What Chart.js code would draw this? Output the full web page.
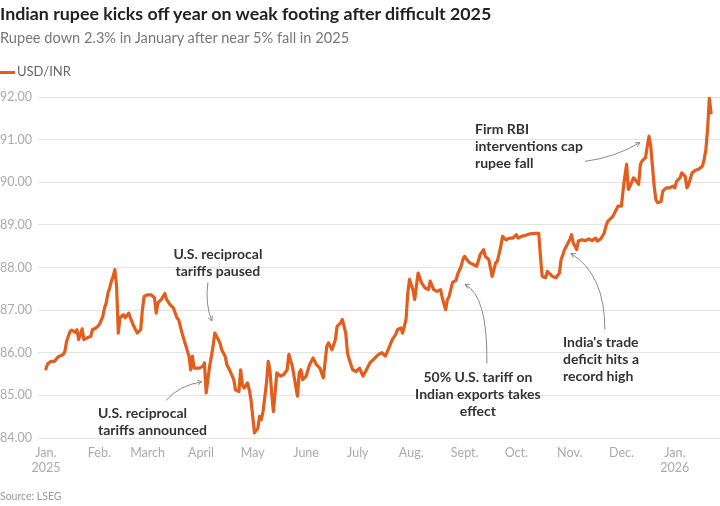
<!DOCTYPE html>
<html>
<head>
<meta charset="utf-8">
<script src="https://cdn.jsdelivr.net/npm/chart.js@4.4.1/dist/chart.umd.min.js"></script>
<style>
  html, body { margin: 0; padding: 0; background: #fff; }
  #wrap { position: relative; width: 720px; height: 506px; overflow: hidden; font-family: Lato, "Open Sans", sans-serif; }
  #title { position: absolute; left: 0; top: 2px; font-size: 17.8px; font-weight: 700; color: #222; white-space: nowrap; }
  #sub { position: absolute; left: 0; top: 29px; font-size: 14.6px; color: #777; white-space: nowrap; }
  #legend { position: absolute; left: 0; top: 63px; font-size: 13px; color: #666; white-space: nowrap; }
  #legend .sw { display: inline-block; width: 15px; height: 3px; background: #e35d1c; vertical-align: middle; margin-right: 2px; }
  #source { position: absolute; left: 0; top: 490px; font-size: 10.5px; color: #999; }
  canvas { position: absolute; left: 0; top: 0; }
</style>
</head>
<body>
<div id="wrap">
  <canvas id="c" width="720" height="506"></canvas>
  <div id="title">Indian rupee kicks off year on weak footing after difficult 2025</div>
  <div id="sub">Rupee down 2.3% in January after near 5% fall in 2025</div>
  <div id="legend"><span class="sw"></span>USD/INR</div>
  <div id="source">Source: LSEG</div>
</div>
<script>
// days since 1 Jan 2025
var days = [0,1,3,5,7,8,10,11,12,14,15,17,18,19,21,22,24,26,27,29,31,33,34,35,36,37,38,39,40,41,42,43,45,46,48,49,51,53,55,56,57,59,61,63,64,65,67,68,69,70,72,74,76,77,79,81,83,84,85,86,87,89,91,92,93,94,95,97,98,99,101,102,104,105,107,109,110,112,113,114,115,117,118,119,120,121,123,124,125,126,128,129,130,131,132,133,134,136,138,140,141,143,144,146,147,148,149,151,153,155,157,159,161,163,164,166,168,169,171,172,174,175,176,178,180,182,184,186,188,190,191,193,195,197,199,201,203,204,206,207,209,210,211,213,214,216,218,220,222,223,225,227,229,230,232,233,234,236,238,239,241,242,243,245,246,248,250,252,254,255,257,258,259,261,262,264,265,267,269,271,273,274,276,278,281,284,286,287,288,290,291,292,294,296,298,299,300,301,302,304,305,306,308,309,311,313,315,317,319,320,322,324,325,326,328,329,331,332,334,335,336,337,338,339,341,342,344,345,346,348,349,350,351,352,353,354,355,357,358,360,362,364,365,366,368,369,371,372,373,375,377,379,381,382,383,384,385,386];

var usdInr = [85.62,85.74,85.80,85.80,85.90,85.92,85.96,86.03,86.27,86.50,86.53,86.48,86.54,86.31,86.56,86.31,86.35,86.38,86.54,86.58,86.66,86.85,87.05,87.17,87.40,87.52,87.68,87.79,87.95,87.56,86.46,86.82,86.89,86.82,86.93,86.82,86.62,86.46,86.54,87.01,87.32,87.36,87.36,87.29,86.93,87.17,87.25,87.32,87.39,87.25,87.13,87.05,86.82,86.78,86.46,86.19,85.92,85.60,85.92,85.64,85.64,85.64,85.68,85.76,85.06,85.37,85.68,86.15,86.46,86.39,86.23,86.07,85.92,85.72,85.56,85.37,85.13,85.09,85.60,85.25,85.17,85.29,85.13,84.90,84.51,84.12,84.23,84.51,84.43,84.62,85.29,85.80,85.60,85.06,84.62,85.06,85.53,85.45,85.49,85.60,85.96,85.68,85.45,84.98,85.53,85.60,85.37,85.45,85.72,85.88,85.72,85.64,85.41,86.15,86.23,86.07,86.31,86.62,86.70,86.78,86.46,86.00,85.84,85.60,85.56,85.64,85.45,85.60,85.76,85.84,85.88,85.96,86.00,85.92,86.11,86.31,86.43,86.54,86.58,86.46,86.78,87.40,87.72,87.48,87.25,87.87,87.64,87.52,87.48,87.68,87.48,87.44,87.48,87.29,87.01,87.25,87.32,87.65,87.70,87.85,88.03,88.19,88.26,88.15,88.11,88.07,88.03,88.30,88.42,88.26,88.19,87.99,87.79,88.11,88.15,88.50,88.73,88.65,88.69,88.69,88.77,88.69,88.73,88.75,88.79,88.80,88.80,88.26,87.79,87.76,87.91,87.87,87.79,87.76,87.87,88.19,88.30,88.42,88.50,88.65,88.77,88.58,88.42,88.62,88.65,88.63,88.67,88.63,88.69,88.62,88.67,88.81,88.97,89.08,89.16,89.20,89.36,89.44,89.44,89.83,90.14,90.42,89.83,89.91,90.10,90.06,89.95,90.42,90.50,90.58,90.85,91.08,90.85,90.38,89.91,89.59,89.52,89.55,89.79,89.87,89.87,89.91,89.87,90.02,90.10,90.22,90.14,89.87,89.95,90.22,90.28,90.31,90.38,90.53,90.77,91.24,91.97,91.63];

// month starts (days since 1 Jan 2025) and their labels
var tickDays = [0,31,59,90,120,151,181,212,243,273,304,334,365];
var tickLabels = [['Jan.','2025'],'Feb.','March','April','May','June','July','Aug.','Sept.','Oct.','Nov.','Dec.',['Jan.','2026']];

// annotations, anchored in data space (day, rate)
var notes = [
  { lines: ['U.S. reciprocal','tariffs paused'], x: 99.8, y: 88.30, align: 'center',
    arrow: [[94.0,87.65],[92.3,87.13],[96.3,86.75]] },
  { lines: ['U.S. reciprocal','tariffs announced'], x: 30.2, y: 84.57, align: 'left',
    arrow: [[69.6,84.88],[77.2,85.23],[90.5,85.32]] },
  { lines: ['50% U.S. tariff on','Indian exports takes','effect'], x: 250.7, y: 85.42, align: 'center',
    arrow: [[255.9,85.75],[256.4,87.35],[243.2,87.60]] },
  { lines: ["India's trade",'deficit hits a','record high'], x: 300.1, y: 86.24, align: 'left',
    arrow: [[324.4,86.54],[324.4,87.84],[304.7,88.33]] },
  { lines: ['Firm RBI','interventions cap','rupee fall'], x: 249.0, y: 91.23, align: 'left',
    arrow: [[312.8,90.49],[330.2,90.58],[344.7,90.93]] }
];

var lineColor = '#e35d1c';
var fontFam = 'Lato, "Open Sans", sans-serif';

var points = [];
for (var i = 0; i < days.length; i++) {
  points.push({ x: days[i], y: usdInr[i] });
}

var notesPlugin = {
  id: 'notes',
  afterDatasetsDraw: function(chart) {
    var c = chart.ctx;
    var xs = chart.scales.x, ys = chart.scales.y;
    c.save();
    notes.forEach(function(n) {
      // arrow
      var p = n.arrow.map(function(a){ return [xs.getPixelForValue(a[0]), ys.getPixelForValue(a[1])]; });
      c.strokeStyle = '#8a8a8a';
      c.lineWidth = 1;
      c.beginPath();
      c.moveTo(p[0][0], p[0][1]);
      c.quadraticCurveTo(p[1][0], p[1][1], p[2][0], p[2][1]);
      c.stroke();
      var ang = Math.atan2(p[2][1] - p[1][1], p[2][0] - p[1][0]);
      var hl = 5;
      c.beginPath();
      c.moveTo(p[2][0] - hl * Math.cos(ang - 0.5), p[2][1] - hl * Math.sin(ang - 0.5));
      c.lineTo(p[2][0], p[2][1]);
      c.lineTo(p[2][0] - hl * Math.cos(ang + 0.5), p[2][1] - hl * Math.sin(ang + 0.5));
      c.stroke();

      // text
      c.fillStyle = '#333';
      c.font = 'bold 14px ' + fontFam;
      c.textAlign = n.align;
      c.textBaseline = 'middle';
      var tx = xs.getPixelForValue(n.x), ty = ys.getPixelForValue(n.y);
      n.lines.forEach(function(t, k) {
        c.fillText(t, tx, ty + k * 17);
      });
    });
    c.restore();
  }
};

new Chart(document.getElementById('c').getContext('2d'), {
  type: 'line',
  data: {
    datasets: [{
      label: 'USD/INR',
      data: points,
      borderColor: lineColor,
      borderWidth: 3.2,
      pointRadius: 0,
      tension: 0,
      borderJoinStyle: 'round',
      borderCapStyle: 'round'
    }]
  },
  options: {
    responsive: false,
    animation: false,
    layout: { padding: { top: 97, bottom: 28, left: 0, right: 0 } },
    plugins: { legend: { display: false }, tooltip: { enabled: false } },
    scales: {
      x: {
        type: 'linear',
        min: -4.6,
        max: 391.2,
        afterFit: function(s) { s.height = 40; },
        afterBuildTicks: function(s) {
          s.ticks = tickDays.map(function(v) { return { value: v }; });
        },
        grid: { display: false, drawTicks: false },
        border: { display: false },
        ticks: {
          autoSkip: false,
          maxRotation: 0,
          padding: 8,
          color: '#aaa',
          font: { family: fontFam, size: 12.5, lineHeight: 1.15 },
          callback: function(v) {
            var k = tickDays.indexOf(v);
            return k < 0 ? '' : tickLabels[k];
          }
        }
      },
      y: {
        min: 84,
        max: 92,
        afterFit: function(s) { s.width = 38; },
        grid: { color: '#e3e3e3', drawTicks: false },
        border: { display: false },
        ticks: {
          stepSize: 1,
          padding: 6,
          color: '#aaa',
          font: { family: fontFam, size: 12.5 },
          callback: function(v) { return v.toFixed(2); }
        }
      }
    }
  },
  plugins: [notesPlugin]
});
</script>
</body>
</html>
